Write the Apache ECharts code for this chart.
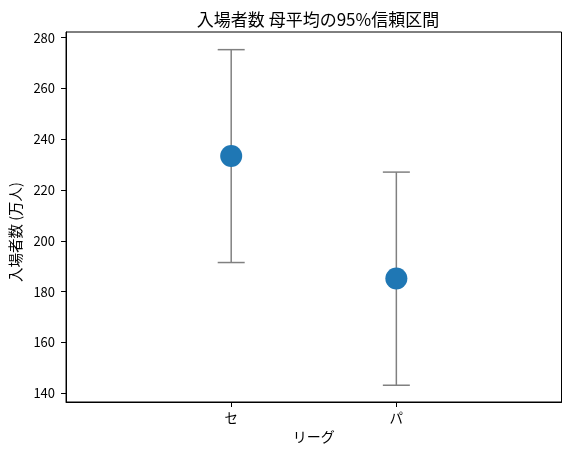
<!DOCTYPE html>
<html>
<head>
<meta charset="utf-8">
<script src="https://cdn.jsdelivr.net/npm/echarts@6/dist/echarts.min.js"></script>
<style>
html,body{margin:0;padding:0;background:#fff;}
#c{width:571px;height:455px;}
</style>
</head>
<body>
<div id="c"></div>
<script>
const categories = ['セ', 'パ'];
const means = [233.4, 185.2];
const lowers = [191.5, 143.2];
const uppers = [275.3, 227.1];
const yTicks = [140, 160, 180, 200, 220, 240, 260, 280];

const FONT = '"Noto Sans CJK JP", "DejaVu Sans", sans-serif';
const chart = echarts.init(document.getElementById('c'), null, {renderer: 'canvas'});

const xIdx = categories.map((_, i) => i);
const errData = categories.map((_, i) => [i, lowers[i], uppers[i]]);
const meanData = categories.map((_, i) => [i, means[i]]);

chart.setOption({
  animation: false,
  backgroundColor: '#fff',
  title: {
    text: '入場者数 母平均の95%信頼区間',
    left: 313, top: 6, textAlign: 'center',
    textStyle: {fontFamily: FONT, fontSize: 17, fontWeight: 'normal', color: '#000'}
  },
  grid: {
    left: 65, right: 9.5, top: 32, bottom: 53,
    show: true, borderColor: '#000', borderWidth: 1, backgroundColor: 'transparent'
  },
  xAxis: {
    type: 'value', min: -1, max: 2,
    name: 'リーグ', nameLocation: 'middle', nameGap: 27,
    nameTextStyle: {fontFamily: FONT, fontSize: 14, color: '#000'},
    axisLine: {show: true, onZero: false, lineStyle: {color: '#000', width: 1}},
    axisTick: {show: true, length: 5, lineStyle: {color: '#000'}, customValues: xIdx},
    axisLabel: {
      fontFamily: FONT, fontSize: 13.5, color: '#000', margin: 9,
      customValues: xIdx,
      formatter: v => categories[Math.round(v)] || ''
    },
    splitLine: {show: false}
  },
  yAxis: {
    type: 'value', min: 136.6, max: 282.25,
    name: '入場者数 (万人)', nameLocation: 'middle', nameGap: 40, nameRotate: 90,
    nameTextStyle: {fontFamily: FONT, fontSize: 14.5, color: '#000', padding: [0, 30, 0, 0]},
    axisLine: {show: true, onZero: false, lineStyle: {color: '#000', width: 1}},
    axisTick: {show: true, length: 5, lineStyle: {color: '#000'}, customValues: yTicks},
    axisLabel: {fontFamily: FONT, fontSize: 13, color: '#000', margin: 11, customValues: yTicks},
    splitLine: {show: false}
  },
  series: [
    {
      type: 'custom',
      data: errData,
      z: 2,
      renderItem: function (params, api) {
        const x = api.value(0);
        const lo = api.coord([x, api.value(1)]);
        const hi = api.coord([x, api.value(2)]);
        const cap = 13.5;
        const style = {stroke: '#808080', lineWidth: 1.5, fill: null};
        return {
          type: 'group',
          children: [
            {type: 'line', shape: {x1: lo[0], y1: lo[1], x2: hi[0], y2: hi[1]}, style: style},
            {type: 'line', shape: {x1: lo[0] - cap, y1: lo[1], x2: lo[0] + cap, y2: lo[1]}, style: style},
            {type: 'line', shape: {x1: hi[0] - cap, y1: hi[1], x2: hi[0] + cap, y2: hi[1]}, style: style}
          ]
        };
      }
    },
    {
      type: 'scatter',
      data: meanData,
      z: 3,
      symbol: 'circle',
      symbolSize: 22,
      itemStyle: {color: '#1f77b4', opacity: 1}
    }
  ]
});
</script>
</body>
</html>
